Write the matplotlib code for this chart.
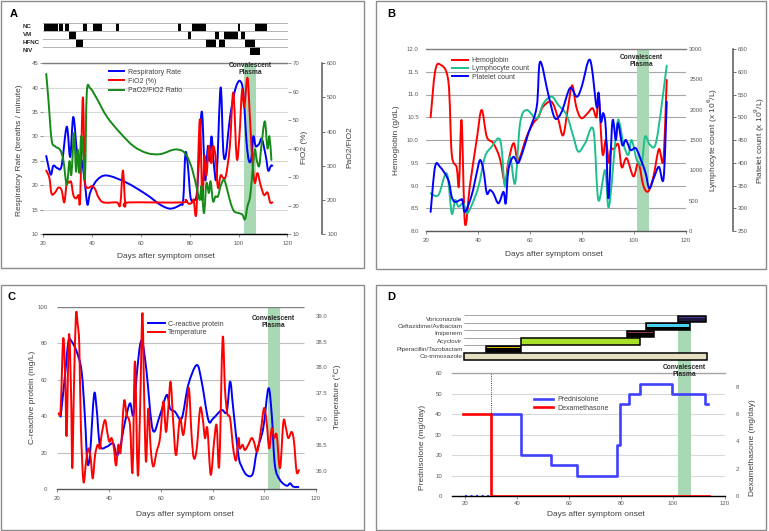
import matplotlib.pyplot as plt
from matplotlib.patches import Rectangle, PathPatch
from matplotlib.path import Path
from matplotlib.lines import Line2D

plt.rcParams['font.family'] = ['Liberation Sans', 'DejaVu Sans']

# ---------------- data ----------------
# A: respiratory support periods (start day, end day)
support_rows = ['NC', 'VM', 'HFNC', 'NIV']
nc_periods = [(20.4, 26.2), (26.6, 28.0), (28.9, 30.7), (36.2, 38.0), (40.5, 44.0), (49.8, 51.2),
              (75.0, 76.4), (80.9, 86.8), (99.6, 100.7), (106.5, 111.7)]
vm_periods = [(30.5, 33.4), (79.1, 80.5), (90.5, 91.8), (93.9, 99.6), (101.0, 102.8)]
hfnc_periods = [(33.3, 36.4), (86.8, 90.7), (91.8, 94.6), (102.8, 106.5)]
niv_periods = [(104.8, 108.9)]

rr_day = [21.2, 23.0, 24.1, 25.8, 27.5, 29.6, 31.0, 32.3, 34.0, 35.8, 37.1, 38.1, 39.2, 41.9, 46.0,
          54.2, 62.5, 67.9, 72.1, 76.2, 77.3, 78.2, 79.2, 80.3, 81.6, 83.0, 84.8, 85.8, 86.4, 87.4,
          88.1, 88.9, 89.9, 91.0, 92.6, 93.7, 94.7, 96.0, 97.1, 98.8, 100.5, 101.9, 103.2, 104.2,
          105.2, 106.0, 107.0, 108.4, 109.5, 111.1, 112.1, 113.2, 113.8]
rr = [26, 22.2, 24, 23.5, 24, 32, 25.8, 34, 26, 25, 20, 16, 18.5, 21, 22,
      20.5, 18, 16, 15.2, 16, 17, 26.5, 24, 17.5, 17, 19, 35, 26, 21, 28,
      25, 30, 24, 22, 40, 27, 26, 32, 36, 40, 41.4, 39, 29, 25,
      25.5, 30, 28, 28.5, 29.5, 26, 23, 24, 24]

fio2_day = [21.2, 22.5, 23.4, 24.8, 26.2, 27.5, 28.6, 29.6, 30.5, 31.4, 32.3, 33.4, 34.4, 35.1, 36.2,
            37.0, 38.1, 39.9, 41.2, 42.6, 44.7, 50.1, 51.5, 52.6, 53.6, 54.9, 76.8, 78.2, 79.6, 81.0,
            81.6, 82.7, 84.1, 85.1, 86.0, 86.8, 87.8, 88.8, 89.5, 90.5, 91.5, 92.6, 93.7, 94.8, 96.4,
            97.8, 99.2, 100.3, 101.4, 102.3, 103.6, 104.6, 105.6, 106.6, 107.7, 109.0, 110.4, 111.8,
            112.9, 113.8]
fio2 = [32.3, 29.7, 24.1, 24.6, 26.3, 25.4, 21.1, 28.0, 28.0, 28.3, 23.7, 22.5, 23.7, 22.5, 58.0,
        29.7, 26.3, 26.8, 25.8, 22.9, 21.1, 21.1, 20.3, 32.3, 20.3, 21.1, 21.1, 22.0, 20.6, 21.1,
        22.0, 17.7, 50.3, 22.0, 37.4, 30.6, 40.9, 34.9, 40.9, 37.4, 26.3, 30.6, 29.7, 30.6, 40.9,
        59.7, 36.6, 44.3, 60.6, 54.6, 64.9, 51.1, 35.7, 28.0, 31.4, 27.1, 23.7, 24.6,
        21.1, 21.1]

pf_day = [21.2, 22.1, 23.4, 24.8, 26.8, 28.2, 29.6, 30.7, 31.5, 32.6, 33.4, 34.1, 34.8, 35.5, 36.4,
          37.1, 37.8, 39.2, 41.9, 46.0, 51.5, 57.0, 62.5, 67.9, 73.4, 76.8, 78.9, 81.0, 83.0, 84.1,
          84.8, 85.8, 86.8, 87.8, 88.5, 89.5, 90.5, 91.5, 92.6, 94.0, 95.3, 96.7, 98.1, 100.1, 101.5,
          102.6, 103.6, 104.7, 105.6, 106.6, 107.4, 108.4, 109.3, 110.7, 111.8, 112.6, 113.4]
pf = [569, 493, 376, 357, 347, 317, 244, 313, 274, 396, 283, 347, 279, 386, 327,
      269, 513, 527, 497, 444, 396, 357, 337, 334, 347, 344, 327, 289, 230, 200,
      240, 161, 249, 220, 254, 196, 210, 210, 240, 259, 230, 191, 167, 161, 157,
      143, 181, 210, 279, 347, 317, 299, 357, 430, 351, 386, 317]
plasma_a = (102.2, 107.0)

# B: blood counts
hb_day = [21.9, 23.6, 25.5, 28.7, 30.0, 31.9, 32.8, 33.8, 35.1, 37.0, 39.6, 41.5, 43.5, 46.0, 48.5,
          50.5, 51.7, 53.8, 55.6, 58.8, 61.4, 63.3, 65.1, 68.4, 70.8, 72.8, 74.6, 76.3, 77.9, 79.8,
          82.3, 84.2, 85.7, 86.5, 88.0, 89.3, 90.5, 91.2, 92.4, 94.1, 95.4, 97.3, 99.9, 101.8, 103.7,
          105.6, 107.6, 109.7, 111.4, 112.7]
hb = [10.5, 11.5, 11.66, 11.3, 9.7, 9.4, 9.0, 10.43, 8.17, 9.0, 10.0, 10.66, 10.07, 9.93, 9.6,
      9.05, 9.5, 9.93, 9.56, 10.07, 10.37, 10.5, 10.73, 10.84, 10.5, 10.1, 10.66, 11.2, 10.73, 10.48,
      10.59, 10.7, 10.5, 10.99, 9.7, 10.0, 9.5, 9.8, 9.8, 9.9, 9.4, 9.6, 9.2, 9.5, 9.0,
      8.87, 9.2, 9.8, 9.56, 11.32]

lym_day = [21.9, 24.9, 28.1, 30.0, 31.3, 32.6, 34.5, 35.8, 37.7, 40.3, 42.8, 45.4, 48.0, 49.2, 50.5,
           52.4, 54.4, 56.3, 58.8, 62.7, 65.3, 68.5, 71.0, 74.2, 76.8, 78.7, 81.3, 84.5, 86.4, 89.0,
           90.5, 93.5, 94.7, 96.0, 97.9, 99.2, 101.2, 103.1, 104.4, 106.3, 108.8, 112.7]
lym = [621, 593, 950, 291, 511, 401, 456, 291, 428, 731, 1225, 1390, 1527, 1362, 731,
       1225, 786, 1775, 1994, 1857, 2104, 2214, 2077, 1912, 1555, 1308, 1445, 1665, 511, 1005,
       401, 1720, 1747, 1445, 1253, 1500, 1170, 1115, 1555, 1417, 1500, 2725]

plt_day = [21.9, 23.6, 25.5, 28.7, 30.0, 31.3, 33.2, 34.1, 35.1, 37.7, 39.6, 40.9, 42.2, 43.5, 44.7,
           46.0, 48.0, 49.9, 50.8, 51.8, 53.7, 55.4, 56.9, 59.5, 62.7, 64.0, 67.2, 69.7, 72.3, 75.5,
           78.1, 80.0, 83.2, 85.7, 86.5, 87.4, 88.3, 89.3, 90.3, 91.8, 93.1, 94.0, 95.6, 97.0, 98.8,
           100.8, 102.8, 104.6, 106.0, 107.9, 109.7, 111.5, 112.7]
platelets = [292, 391, 391, 362, 325, 314, 318, 318, 292, 329, 377, 406, 384, 333, 340,
             333, 311, 336, 311, 384, 413, 399, 417, 465, 523, 622, 549, 498, 512, 564,
             545, 567, 626, 523, 554, 490, 509, 472, 322, 490, 450, 487, 439, 450, 428,
             432, 406, 377, 344, 369, 391, 366, 534]
plasma_b = (101.2, 105.9)

# C: CRP and temperature
crp_day = [21.3, 23.0, 24.3, 25.5, 27.5, 29.4, 30.7, 31.6, 32.6, 34.2, 35.2, 36.5, 39.1, 41.6, 42.9,
           44.2, 46.2, 48.1, 49.4, 50.7, 52.0, 53.0, 54.5, 56.9, 59.7, 62.3, 63.6, 65.5, 68.1, 70.6,
           73.9, 75.8, 78.4, 80.3, 83.5, 85.5, 86.8, 88.0, 90.0, 91.3, 93.2, 95.5, 97.1, 99.6, 101.6,
           102.9, 104.1, 106.1, 108.7, 110.0, 111.2, 113.2]
crp = [39.7, 62.5, 81, 81, 75.3, 64.4, 38.8, 15, 18.6, 51.6, 44.2, 24, 23.2, 25, 18.6,
       22.3, 37, 47, 40.6, 62.5, 79, 80, 64.4, 32.4, 40.6, 51.6, 44.2, 42.4, 38.8, 57,
       68, 58.9, 37.8, 38.8, 43.3, 42.4, 58.9, 44.2, 18.6, 12.2, 7.7, 8.2, 20.5, 33.3, 55.2,
       40.6, 13.2, 4.9, 1.8, 3.1, 1.3, 1.1]

temp_day = [20.5, 21.3, 22.3, 23.1, 23.6, 24.5, 25.3, 25.8, 26.4, 27.2, 27.9, 28.5, 29.1, 30.1, 31.1,
            32.0, 32.9, 33.7, 34.6, 35.6, 36.5, 37.1, 38.4, 39.3, 40.1, 41.0, 41.9, 42.7, 43.6, 44.5,
            45.8, 46.8, 48.1, 49.1, 50.0, 51.1, 52.0, 52.9, 53.6, 54.3, 55.2, 56.1, 57.1, 58.4, 59.7,
            61.0, 62.0, 62.9, 63.8, 64.8, 65.9, 67.4, 68.7, 70.0, 70.9, 71.9, 72.8, 73.9, 75.2, 76.2,
            77.1, 78.0, 79.3, 80.6, 81.6, 82.6, 83.9, 84.8, 85.7, 86.8, 88.0, 89.1, 90.0, 90.6, 91.6,
            92.5, 93.8, 95.1, 96.0, 97.3, 98.6, 99.9, 100.9, 101.9, 102.9, 103.8, 104.8, 106.1, 107.4,
            108.4, 109.3, 110.6, 111.5, 112.5, 113.4]
temp = [37.11, 37.2, 38.56, 37.72, 36.69, 38.63, 37.53, 36.05, 37.53, 39.01, 38.82, 38.43, 36.88, 35.79, 36.17,
        36.43, 36.24, 35.85, 36.3, 36.5, 36.43, 36.69, 36.98, 36.75, 36.56, 36.63, 36.43, 36.1, 36.5, 36.37,
        37.34, 37.08, 36.88, 35.98, 38.11, 35.92, 37.2, 39.05, 37.34, 36.17, 37.2, 36.43, 36.08, 36.37, 36.63,
        37.34, 36.75, 37.2, 37.72, 36.95, 36.3, 37.01, 36.69, 37.2, 37.59, 36.69, 36.24, 36.43, 37.2, 37.01,
        36.63, 36.82, 35.92, 36.56, 36.88, 36.1, 38.56, 37.59, 37.11, 37.01, 36.43, 36.2, 36.63, 36.43, 36.5,
        36.4, 36.5, 36.63, 36.56, 36.37, 36.75, 37.21, 36.95, 36.43, 36.82, 36.63, 36.69, 36.05, 36.95,
        36.82, 36.63, 36.75, 36.56, 35.98, 36.01]
plasma_c = (101.6, 106.1)

# D: treatments
drugs = ['Co-trimoxazole', 'Piperacillin/Tazobactam', 'Acyclovir', 'Imipenem',
         'Ceftazidime/Avibactam', 'Voriconazole']
drug_start = [19.6, 28.2, 41.8, 82.4, 89.6, 102.0]
drug_end = [113.2, 41.8, 87.3, 92.7, 106.5, 112.6]
pred_day = [30, 41.8, 53, 63.2, 78.6, 79.5, 83, 87.3, 99.7, 112.3, 113.5]
pred = [40, 20, 15, 10, 25, 45, 50, 55, 50, 45, 45]
dex_day = [19.5, 30, 114]
dex = [6, 0, 0]
plasma_d = (102.0, 106.8)

# ---------------- figure ----------------
W, H = 769, 531
fig = plt.figure(figsize=(7.69, 5.31), dpi=100)


def px_rect(x0, y0, x1, y1):
    return [x0 / W, 1 - y1 / H, (x1 - x0) / W, (y1 - y0) / H]


def fx(x):
    return x / W


def fy(y):
    return 1 - y / H


TICK = 4.3
LABEL = 6
LEG = 5
LW = 1.4
GRID = '#d9d9d9'
TXT = '#404040'
SPAN = '#a9d8b4'


def smooth_line(ax, x, y, color, lw=LW):
    # Excel-style smoothed line: cubic Bezier pieces passing through every data point
    n = len(x)
    verts = [(x[0], y[0])]
    codes = [Path.MOVETO]
    for i in range(n - 1):
        xa, ya = (x[i - 1], y[i - 1]) if i > 0 else (x[i], y[i])
        xb, yb = (x[i + 2], y[i + 2]) if i + 2 < n else (x[i + 1], y[i + 1])
        verts.append((x[i] + (x[i + 1] - xa) / 6, y[i] + (y[i + 1] - ya) / 6))
        verts.append((x[i + 1] - (xb - x[i]) / 6, y[i + 1] - (yb - y[i]) / 6))
        verts.append((x[i + 1], y[i + 1]))
        codes += [Path.CURVE4] * 3
    ax.add_patch(PathPatch(Path(verts, codes), fill=False, edgecolor=color, lw=lw,
                           joinstyle='round', capstyle='round'))
    return Line2D([], [], color=color, lw=lw)


def hide_spines(ax):
    for s in ax.spines.values():
        s.set_visible(False)


def base_style(ax, top_color='#7f7f7f', bottom_color='black'):
    hide_spines(ax)
    ax.spines['top'].set_visible(True)
    ax.spines['top'].set_color(top_color)
    ax.spines['top'].set_linewidth(1)
    ax.spines['bottom'].set_visible(True)
    ax.spines['bottom'].set_color(bottom_color)
    ax.spines['bottom'].set_linewidth(1)
    ax.tick_params(labelsize=TICK, labelcolor='#595959', color='#808080', length=2, width=0.6, pad=1.5)
    ax.tick_params(axis='x', pad=3)
    ax.set_axisbelow(True)


def plasma_label(ax, x, y):
    ax.text(x, y, 'Convalescent\nPlasma', transform=ax.get_xaxis_transform(), ha='center', va='center',
            fontsize=4.8, fontweight='bold', color='#262626', linespacing=1.0, clip_on=False)


# panel frames and letters
for x0, y0, x1, y1 in [(1, 1, 364, 268), (376, 1, 766, 269), (1, 285, 364, 530), (376, 285, 766, 530)]:
    fig.add_artist(Rectangle((fx(x0), fy(y1)), (x1 - x0) / W, (y1 - y0) / H, transform=fig.transFigure,
                             fill=False, edgecolor='#8c8c8c', lw=1))
for letter, x, y in [('A', 13.5, 14), ('B', 391, 14), ('C', 12, 297), ('D', 391, 297)]:
    fig.text(fx(x), fy(y), letter, fontsize=8, fontweight='bold', ha='center', va='center')

# ---- A: support strip ----
axs = fig.add_axes(px_rect(43.3, 22.7, 287.5, 54.5))
axs.set_xlim(20, 120)
axs.set_ylim(0, 4)
axs.axis('off')
for k in range(5):
    axs.axhline(k, color='#a6a6a6', lw=0.6)
for r, periods in enumerate([nc_periods, vm_periods, hfnc_periods, niv_periods]):
    y = 3.5 - r
    for s, e in periods:
        axs.barh(y, e - s, left=s, height=1, color='black')
    axs.text(-0.085, y, support_rows[r], transform=axs.get_yaxis_transform(), ha='left', va='center',
             fontsize=4.5, fontweight='bold', color='#262626')

# ---- A: main ----
axA = fig.add_axes(px_rect(43.3, 63.3, 287.5, 234))
base_style(axA)
axA.axvspan(*plasma_a, color=SPAN, lw=0)
l1 = smooth_line(axA, rr_day, rr, '#0000ff')
axA.set_xlim(20, 120)
axA.set_ylim(10, 45)
axA.set_xticks(range(20, 140, 20))
axA.set_yticks(range(10, 50, 5))
axA.yaxis.grid(True, color=GRID, lw=0.8)

axA2 = axA.twinx()
hide_spines(axA2)
l2 = smooth_line(axA2, fio2_day, fio2, '#ff0000')
axA2.set_ylim(10, 70)
axA2.set_yticks(range(10, 80, 10))
axA2.tick_params(labelsize=TICK, labelcolor='#595959', color='#808080', length=2, width=0.6, pad=1.5)

axA3 = axA.twinx()
hide_spines(axA3)
axA3.spines['right'].set_visible(True)
axA3.spines['right'].set_position(('outward', 25))
axA3.spines['right'].set_color('#595959')
axA3.spines['right'].set_linewidth(1.1)
l3 = smooth_line(axA3, pf_day, pf, '#168a16')
axA3.set_ylim(100, 600)
axA3.set_yticks(range(100, 700, 100))
axA3.tick_params(labelsize=TICK, labelcolor='#595959', color='#595959', length=2, width=0.6, pad=1.5)
plasma_label(axA3, 104.6, 0.965)

fig.legend([l1, l2, l3], ['Respiratory Rate', 'FiO2 (%)', 'PaO2/FiO2 Ratio'], loc='upper left',
           bbox_to_anchor=(fx(109), fy(68.5)), frameon=False, fontsize=LEG, handlelength=2.2,
           handletextpad=0.5, labelspacing=0.35, borderpad=0, borderaxespad=0, labelcolor=TXT)
fig.text(fx(20), fy(150), 'Respiratory Rate (breaths / minute)', rotation=90, ha='center', va='center',
         fontsize=LABEL, color=TXT)
fig.text(fx(304), fy(147), 'FiO2 (%)', rotation=90, ha='center', va='center', fontsize=LABEL, color=TXT)
fig.text(fx(350), fy(147), 'PaO2/FiO2', rotation=90, ha='center', va='center', fontsize=LABEL, color=TXT)
fig.text(fx(165.5), fy(256.7), 'Days after symptom onset', ha='center', va='center', fontsize=LABEL, color=TXT)

# ---- B ----
axB = fig.add_axes(px_rect(425.7, 49, 685.7, 231))
base_style(axB, bottom_color='#595959')
axB.axvspan(*plasma_b, color=SPAN, lw=0)
m1 = smooth_line(axB, hb_day, hb, '#ff0000')
axB.set_xlim(20, 120)
axB.set_ylim(8, 12)
axB.set_xticks(range(20, 140, 20))
axB.set_yticks([8 + 0.5 * k for k in range(9)])
axB.set_yticklabels(['%.1f' % (8 + 0.5 * k) for k in range(9)])
axB.tick_params(axis='y', length=0, pad=5)
axB.yaxis.grid(True, color='#a6a6a6', lw=0.8)

axB2 = axB.twinx()
hide_spines(axB2)
m2 = smooth_line(axB2, lym_day, lym, '#1dbf8f')
axB2.set_ylim(0, 3000)
axB2.set_yticks(range(0, 3500, 500))
axB2.tick_params(labelsize=TICK, labelcolor='#595959', length=0, pad=2.5)

axB3 = axB.twinx()
hide_spines(axB3)
axB3.spines['right'].set_visible(True)
axB3.spines['right'].set_position(('outward', 34))
axB3.spines['right'].set_color('#595959')
axB3.spines['right'].set_linewidth(1.1)
m3 = smooth_line(axB3, plt_day, platelets, '#0000ff')
axB3.set_ylim(250, 650)
axB3.set_yticks(range(250, 700, 50))
axB3.tick_params(labelsize=TICK, labelcolor='#595959', color='#595959', length=2, width=0.6, pad=1.5)
plasma_label(axB3, 103.0, 0.935)

fig.legend([m1, m2, m3], ['Hemoglobin', 'Lymphocyte count', 'Platelet count'], loc='upper left',
           bbox_to_anchor=(fx(451.7), fy(57)), frameon=False, fontsize=LEG, handlelength=2.3,
           handletextpad=0.6, labelspacing=0.2, borderpad=0, borderaxespad=0, labelcolor=TXT)
fig.text(fx(397), fy(140), 'Hemoglobin (g/dL)', rotation=90, ha='center', va='center', fontsize=LABEL, color=TXT)
fig.text(fx(713), fy(140), 'Lymphocyte count (x 10$^{6}$/L)', rotation=90, ha='center', va='center',
         fontsize=LABEL, color=TXT)
fig.text(fx(760), fy(140), 'Platelet count (x 10$^{9}$/L)', rotation=90, ha='center', va='center',
         fontsize=LABEL, color=TXT)
fig.text(fx(554), fy(254), 'Days after symptom onset', ha='center', va='center', fontsize=LABEL, color=TXT)

# ---- C ----
axC = fig.add_axes(px_rect(57.3, 306.7, 316, 489))
base_style(axC, bottom_color='#595959')
axC.spines['top'].set_visible(False)
axC.axvspan(*plasma_c, color=SPAN, lw=0)
n1 = smooth_line(axC, crp_day, crp, '#0000ff')
axC.set_xlim(20, 120)
axC.set_ylim(0, 100)
axC.set_xticks(range(20, 140, 20))
axC.set_yticks(range(0, 120, 20))
axC.tick_params(axis='y', length=0, pad=7)
axC.hlines([20, 40, 60, 80], 20, 115.4, color='#bfbfbf', lw=0.8, zorder=0.5)
axC.hlines(100, 20, 115.4, color='#7f7f7f', lw=1)

axC2 = axC.twinx()
hide_spines(axC2)
n2 = smooth_line(axC2, temp_day, temp, '#ff0000')
axC2.set_ylim(35.645, 39.174)
axC2.set_yticks([36 + 0.5 * k for k in range(7)])
axC2.set_yticklabels(['%.1f' % (36 + 0.5 * k) for k in range(7)])
axC2.tick_params(labelsize=TICK, labelcolor='#595959', length=0, pad=0)
plasma_label(axC2, 103.4, 0.918)

fig.legend([n1, n2], ['C-reactive protein', 'Temperature'], loc='upper left',
           bbox_to_anchor=(fx(148), fy(320.5)), frameon=False, fontsize=LEG, handlelength=2.4,
           handletextpad=0.5, labelspacing=0.25, borderpad=0, borderaxespad=0, labelcolor=TXT)
fig.text(fx(33), fy(397), 'C-reactive protein (mg/L)', rotation=90, ha='center', va='center',
         fontsize=LABEL, color=TXT)
fig.text(fx(337), fy(397), 'Temperature (°C)', rotation=90, ha='center', va='center', fontsize=LABEL, color=TXT)
fig.text(fx(185), fy(514), 'Days after symptom onset', ha='center', va='center', fontsize=LABEL, color=TXT)

# ---- D: drug bars ----
axb = fig.add_axes(px_rect(451.7, 315.25, 725, 373.3))
axb.set_xlim(15, 120)
axb.set_ylim(-2.24, 5.5)
axb.axis('off')
axb.axvspan(*plasma_d, ymin=0, ymax=(3.5 + 2.24) / 7.74, color=SPAN, lw=0)
for r, name in enumerate(drugs):
    if drug_start[r] > 20:
        axb.hlines([r - 0.5, r + 0.5], 19.6, drug_start[r], color='#a6a6a6', lw=0.7)
    axb.text(19.2, r, name, ha='right', va='center', fontsize=4.6, color=TXT)
bar_face = ['#e6dfc0', 'black', '#a8e02a', 'black', 'black', '#1c1840']
stripe = [None, '#d9b400', None, '#8c3a4a', '#45d2f2', '#4a3c8c']
stripe_h = [0, 0.2, 0, 0.18, 0.45, 0.2]
for r in range(len(drugs)):
    axb.barh(r, drug_end[r] - drug_start[r], left=drug_start[r], height=0.92, color=bar_face[r],
             edgecolor='black', lw=1.1, zorder=3)
    if stripe[r]:
        axb.barh(r + 0.42 - stripe_h[r] / 2 - 0.1, drug_end[r] - drug_start[r] - 0.8, left=drug_start[r] + 0.4,
                 height=stripe_h[r], color=stripe[r], lw=0, zorder=4)

# ---- D: steroids ----
axD = fig.add_axes(px_rect(451.7, 373.3, 725, 496))
base_style(axD, top_color='#a6a6a6')
axD.axvspan(*plasma_d, color=SPAN, lw=0)
axD.axvline(30, color='black', ls=':', lw=0.6)
p1, = axD.step(pred_day, pred, where='post', color='#4040ff', lw=1.9)
axD.plot([20, 30], [0, 0], color='#4040ff', ls=':', lw=1.5)
axD.set_xlim(15, 120)
axD.set_ylim(0, 60)
axD.set_xticks(range(20, 140, 20))
axD.set_yticks(range(0, 70, 10))
axD.tick_params(axis='y', length=0, pad=7)
axD.tick_params(axis='x', pad=1.5)
axD.yaxis.grid(True, color=GRID, lw=0.8)

axD2 = axD.twinx()
hide_spines(axD2)
p2, = axD2.step(dex_day, dex, where='post', color='#ff0000', lw=1.9)
axD2.set_ylim(0, 9)
axD2.set_yticks(range(0, 10, 2))
axD2.tick_params(labelsize=TICK, labelcolor='#595959', length=0, pad=8)
plasma_label(axD2, 104.4, 1.015)

fig.legend([p1, p2], ['Prednisolone', 'Dexamethasone'], loc='upper left',
           bbox_to_anchor=(fx(534), fy(396)), frameon=False, fontsize=LEG, handlelength=2.8,
           handletextpad=0.5, labelspacing=0.25, borderpad=0, borderaxespad=0, labelcolor=TXT)
fig.text(fx(422), fy(447), 'Prednisolone (mg/day)', rotation=90, ha='center', va='center',
         fontsize=LABEL, color=TXT)
fig.text(fx(753), fy(448), 'Dexamethasone (mg/day)', rotation=90, ha='center', va='center',
         fontsize=LABEL, color=TXT)
fig.text(fx(596), fy(514), 'Days after symptom onset', ha='center', va='center', fontsize=LABEL, color=TXT)

fig.savefig('out.png', dpi=100)
